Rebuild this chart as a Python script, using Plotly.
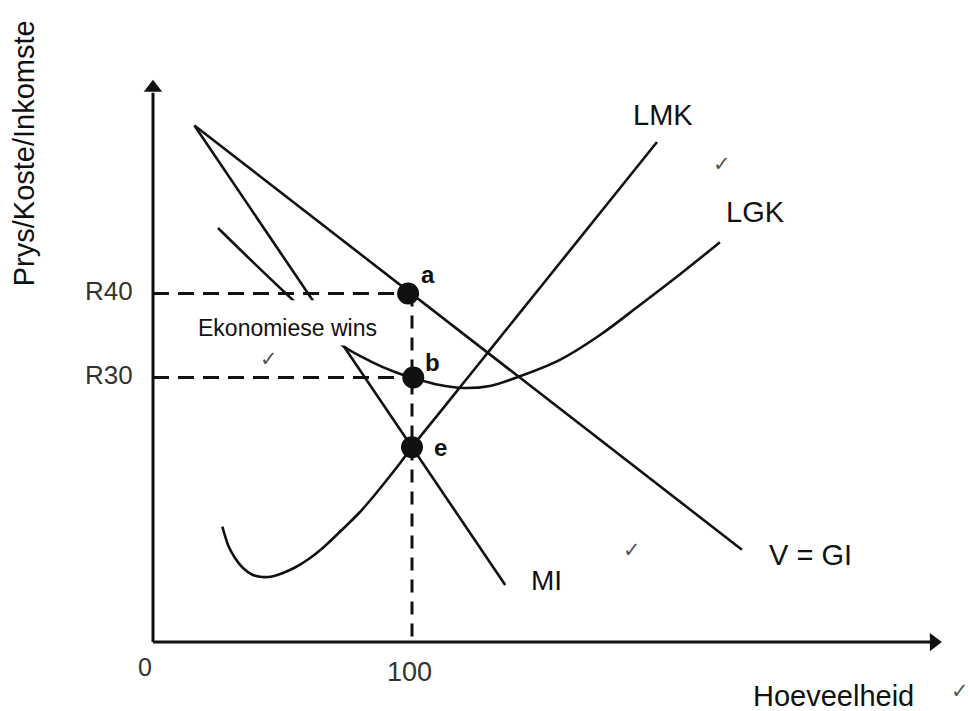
import plotly.graph_objects as go

# ---- data (quantity, price in rand) ----
q_eq = 100          # profit-maximising quantity
p_price = 40        # price (point a)
p_atc = 30          # average cost (point b)
p_mc_eq = 21.7      # MC = MR (point e)

ar_q = [16, 227.4]
ar_p = [60.0, 9.5]

mr_q = [16, 136]
mr_p = [60.0, 5.3]

mc_q = [26.76, 28.96, 31.66, 34.75, 38.22, 42.08, 45.95, 50.19, 54.83, 59.85, 64.86, 69.88,
        74.90, 79.92, 84.94, 89.96, 94.98, 100, 110.81, 119.69, 130.12, 152.51, 172.59, 194.59]
mc_p = [12.24, 10.06, 8.51, 7.32, 6.55, 6.25, 6.31, 6.73, 7.38, 8.33, 9.52, 10.95,
        12.44, 13.99, 15.77, 17.68, 19.64, 21.73, 25.88, 29.29, 33.29, 41.88, 49.58, 58.04]

atc_q = [25.1, 39.4, 54.1, 64.5, 73.4, 83.8, 93.4, 100, 110.8, 119.7, 130.1, 140.9, 157.1, 172.6, 188.0, 203.5, 218.9]
atc_p = [47.8, 43.5, 39.2, 36.25, 33.75, 31.96, 30.65, 30.0, 29.1, 28.75, 29.0, 30.06, 32.1, 35.06, 38.63, 42.3, 46.1]

pts_label = ["a", "b", "e"]
pts_q = [98.5, 100.5, 100]
pts_p = [40.0, 30.0, 21.7]

y_ticks = [40, 30]
y_tick_text = ["R40", "R30"]
x_ticks = [0, 100]
x_tick_text = ["0", "100"]

axis_floor = -1.5
axis_top = 63.9
axis_right = 300

FONT = "Liberation Sans, Arial, Helvetica, sans-serif"
BLACK = "#111111"

fig = go.Figure()

def line(x, y, width=2.6, dash=None, shape="linear", color=BLACK, smoothing=1.0):
    fig.add_trace(go.Scatter(x=x, y=y, mode="lines",
                             line=dict(color=color, width=width, dash=dash, shape=shape, smoothing=smoothing),
                             hoverinfo="skip"))

# axes
line([0, 0], [axis_floor, axis_top], width=3)
line([0, axis_right], [axis_floor, axis_floor], width=3)
fig.add_trace(go.Scatter(x=[0], y=[axis_top + 0.6], mode="markers",
                         marker=dict(symbol="triangle-up", size=16, color=BLACK), hoverinfo="skip"))
fig.add_trace(go.Scatter(x=[axis_right + 1.5], y=[axis_floor], mode="markers",
                         marker=dict(symbol="triangle-right", size=16, color=BLACK), hoverinfo="skip"))

# dashed guide lines
line([0, pts_q[0]], [p_price, p_price], width=3, dash="16px,9px")
line([0, pts_q[1]], [p_atc, p_atc], width=3, dash="16px,9px")
line([q_eq, q_eq], [p_price, axis_floor + 0.5], width=3, dash="13px,9px")

# curves
line(ar_q, ar_p)
line(mr_q, mr_p)
line(atc_q, atc_p, shape="spline", smoothing=1.0)
line(mc_q, mc_p, shape="spline", smoothing=0.6)

# points
fig.add_trace(go.Scatter(x=pts_q, y=pts_p, mode="markers",
                         marker=dict(size=22, color=BLACK), hoverinfo="skip"))

# white box behind "Ekonomiese wins"
fig.add_shape(type="rect", x0=12.4, x1=95.0, y0=33.8, y1=39.2, xref="x", yref="y",
              fillcolor="white", line=dict(width=0), layer="above")

def text(x, y, s, size, color=BLACK, angle=0, xanchor="center", bold=False):
    if bold:
        s = "<b>" + s + "</b>"
    fig.add_annotation(x=x, y=y, text=s, showarrow=False, textangle=angle,
                       xanchor=xanchor, yanchor="middle",
                       font=dict(family=FONT, size=size, color=color))

text(-49.8, 56.7, "Prys/Koste/Inkomste", 29, angle=-90)
for t, lab in zip(y_ticks, y_tick_text):
    text(-6.9, t + 0.3, lab, 26, color="#333333", xanchor="right")
text(x_ticks[0] - 3.1, -4.5, x_tick_text[0], 25, color="#333333")
text(x_ticks[1] - 0.8, -5.1, x_tick_text[1], 27, color="#333333")
text(262.9, -7.9, "Hoeveelheid", 29)
text(196.9, 61.25, "LMK", 29)
text(232.8, 49.7, "LGK", 29)
text(253.7, 8.9, "V = GI", 29)
text(152.1, 5.8, "MI", 28)
text(52.1, 35.9, "Ekonomiese wins", 23)

label_off = [(7.7, 2.3), (7.6, 1.8), (10.9, 0.0)]
for lab, q, p, (dq, dp) in zip(pts_label, pts_q, pts_p, label_off):
    text(q + dq, p + dp, lab, 24, bold=True)

for cq, cp in [(219.7, 55.5), (44.8, 32.3), (184.9, 9.5), (311.4, -7.3)]:
    text(cq, cp, "✓", 21, color="#555555")

fig.update_layout(
    width=971, height=711,
    margin=dict(l=0, r=0, t=0, b=0),
    paper_bgcolor="white", plot_bgcolor="white",
    showlegend=False,
    xaxis=dict(range=[-59.07, 315.83], visible=False, fixedrange=True),
    yaxis=dict(range=[-9.70, 74.94], visible=False, fixedrange=True),
)

fig.write_html("out.html", config={"displayModeBar": False},
               post_script="document.body.style.margin='0';document.body.style.overflow='hidden';")
